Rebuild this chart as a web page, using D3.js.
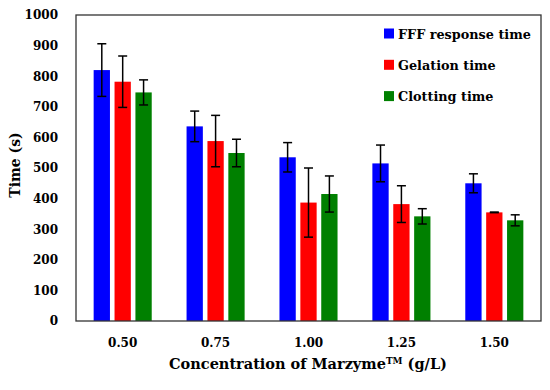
<!DOCTYPE html>
<html><head><meta charset="utf-8">
<script src="https://cdn.jsdelivr.net/npm/d3@7"></script>
<style>body{margin:0;background:#fff;} svg{display:block;}
.f{font-family:"DejaVu Serif", serif;}
</style>
</head><body>
<svg id="chart" width="550" height="390"></svg>
<script>
const categories = ["0.50", "0.75", "1.00", "1.25", "1.50"];
const seriesNames = ["FFF response time", "Gelation time", "Clotting time"];
const seriesColors = ["#0000ff", "#ff0000", "#008000"];
const fffValues = [820, 636, 535, 515, 450];
const fffErrors = [86, 50, 48, 60, 31];
const gelValues = [782, 588, 387, 382, 355];
const gelErrors = [84, 84, 113, 60, 1];
const clotValues = [747, 549, 415, 342, 329];
const clotErrors = [41, 45, 59, 25, 18];
const yTicks = [0, 100, 200, 300, 400, 500, 600, 700, 800, 900, 1000];

const series = [
  {name: seriesNames[0], color: seriesColors[0], values: fffValues, errors: fffErrors},
  {name: seriesNames[1], color: seriesColors[1], values: gelValues, errors: gelErrors},
  {name: seriesNames[2], color: seriesColors[2], values: clotValues, errors: clotErrors}
];

const svg = d3.select("#chart");
const m = {left: 76, right: 541, top: 15, bottom: 321};

const x0 = d3.scaleBand().domain(categories).range([m.left, m.right]).paddingInner(0.375).paddingOuter(0.19);
const x1 = d3.scaleBand().domain(d3.range(series.length)).range([0, x0.bandwidth()]).paddingInner(0.22);
const y = d3.scaleLinear().domain([0, 1000]).range([m.bottom, m.top]);

series.forEach((s, si) => {
  const g = svg.append("g");
  g.selectAll("rect").data(categories).join("rect")
    .attr("x", (c) => x0(c) + x1(si))
    .attr("width", x1.bandwidth())
    .attr("y", (c, i) => y(s.values[i]))
    .attr("height", (c, i) => y(0) - y(s.values[i]))
    .attr("fill", s.color);
  const eb = svg.append("g").attr("stroke", "#000").attr("stroke-width", 1.5);
  categories.forEach((c, i) => {
    const cx = x0(c) + x1(si) + x1.bandwidth() / 2;
    const top = y(s.values[i] + s.errors[i]);
    const bot = y(s.values[i] - s.errors[i]);
    eb.append("line").attr("x1", cx).attr("x2", cx).attr("y1", top).attr("y2", bot);
    eb.append("line").attr("x1", cx - 4.5).attr("x2", cx + 4.5).attr("y1", top).attr("y2", top);
    eb.append("line").attr("x1", cx - 4.5).attr("x2", cx + 4.5).attr("y1", bot).attr("y2", bot);
  });
});

svg.append("rect").attr("x", m.left).attr("y", m.top)
  .attr("width", m.right - m.left).attr("height", m.bottom - m.top)
  .attr("fill", "none").attr("stroke", "#333").attr("stroke-width", 1.3);

const yAxis = d3.axisLeft(y).tickValues(yTicks).tickFormat(d3.format("d")).tickSize(0).tickPadding(18);
const ya = svg.append("g").attr("transform", `translate(${m.left},0)`).call(yAxis);
ya.select(".domain").remove();
ya.attr("font-family", null);
ya.selectAll("text").attr("class", "f").attr("font-size", 12).attr("font-weight", "bold").attr("fill", "#000");

const xAxis = d3.axisBottom(x0).tickSize(0).tickPadding(17);
const xa = svg.append("g").attr("transform", `translate(0,${m.bottom})`).call(xAxis);
xa.select(".domain").remove();
xa.attr("font-family", null);
xa.selectAll("text").attr("class", "f").attr("font-size", 12).attr("font-weight", "bold").attr("fill", "#000");

svg.append("text").attr("class", "f").attr("transform", "translate(20,165) rotate(-90)")
  .attr("text-anchor", "middle").attr("font-size", 14)
  .attr("font-weight", "bold").text("Time (s)");

const xt = svg.append("text").attr("class", "f").attr("x", 308).attr("y", 369)
  .attr("text-anchor", "middle").attr("font-size", 14.5)
  .attr("font-weight", "bold");
xt.append("tspan").text("Concentration of Marzyme");
xt.append("tspan").attr("font-size", 9).attr("dy", -5).text("TM");
xt.append("tspan").attr("dy", 5).text(" (g/L)");

const lg = svg.append("g");
series.forEach((s, i) => {
  const cy = 33.5 + i * 31.3;
  lg.append("rect").attr("x", 384).attr("y", cy - 5).attr("width", 10).attr("height", 10).attr("fill", s.color);
  lg.append("text").attr("class", "f").attr("x", 398).attr("y", cy + 5)
    .attr("font-size", 12.8).attr("font-weight", "bold").text(s.name);
});
</script>
</body></html>
